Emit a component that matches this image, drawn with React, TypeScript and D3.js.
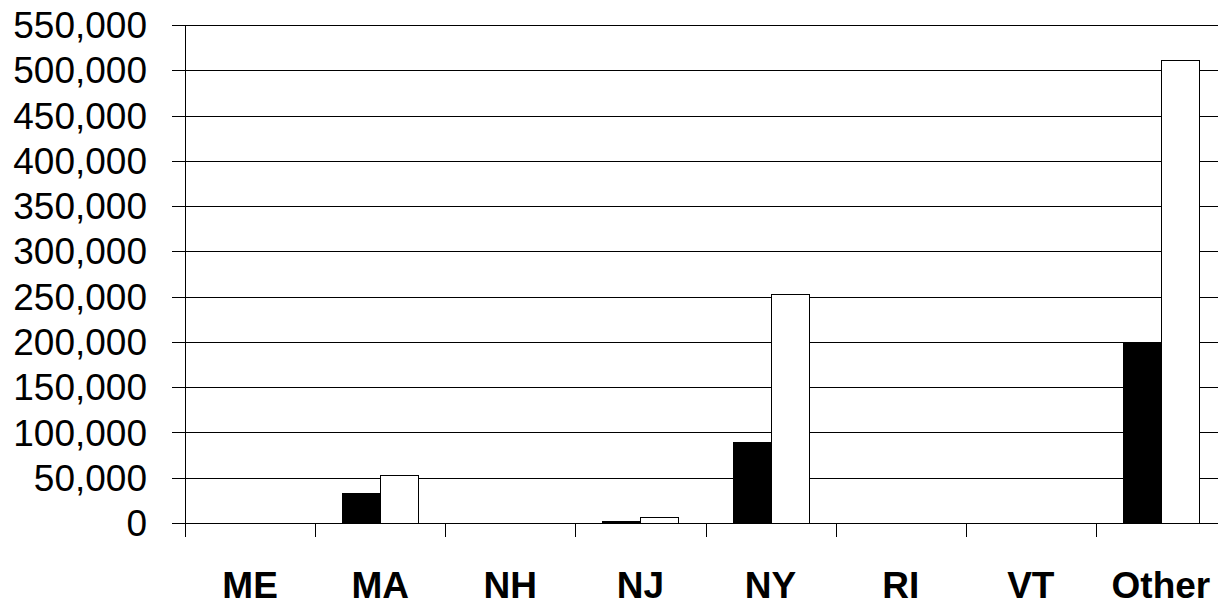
import React from "react";
import * as d3 from "d3";

const categories = ["ME", "MA", "NH", "NJ", "NY", "RI", "VT", "Other"];
const seriesNames = ["Series A", "Series B"];
const seriesA = [0, 33000, 0, 2000, 89000, 0, 0, 199000];
const seriesB = [0, 53500, 0, 6500, 252500, 0, 0, 511500];
const yTicks = [0, 50000, 100000, 150000, 200000, 250000, 300000, 350000, 400000, 450000, 500000, 550000];
const fills = ["#000000", "#ffffff"];

const W = 1218;
const H = 602;
const left = 185;
const right = 1226;
const top = 25;
const bottom = 523;

export default function App() {
  const x = d3.scaleBand<string>().domain(categories).range([left, right]).paddingInner(0).paddingOuter(0);
  const x1 = d3.scaleBand<string>().domain(seriesNames).range([0, x.bandwidth()]).paddingInner(0).paddingOuter(0.713);
  const y = d3.scaleLinear().domain([0, 550000]).range([bottom, top]);
  const fmt = d3.format(",");
  const values = [seriesA, seriesB];
  const px = (v: number) => Math.round(v) + 0.5;

  return (
    <svg width={W} height={H} style={{ position: "absolute", left: 0, top: 0, background: "#fff" }}>
      <rect x={0} y={0} width={W} height={H} fill="#fff" />
      {yTicks.map((t) => (
        <g key={t}>
          <line x1={left - 13} x2={W} y1={px(y(t))} y2={px(y(t))} stroke="#000" strokeWidth={1} />
          <text
            x={147}
            y={y(t)}
            dy="0.355em"
            textAnchor="end"
            fontFamily="'Liberation Sans', Arial, sans-serif"
            fontSize={37}
            fill="#000"
          >
            {fmt(t)}
          </text>
        </g>
      ))}
      {values.map((vals, si) =>
        categories.map((c, ci) => {
          const v = vals[ci];
          if (!v) return null;
          const x0 = Math.round((x(c) as number) + (x1(seriesNames[si]) as number));
          const w = Math.round(x1.bandwidth());
          const yt = Math.round(y(v));
          return (
            <rect
              key={`${si}-${ci}`}
              x={x0 + 0.5}
              y={yt + 0.5}
              width={w}
              height={Math.max(0, Math.round(y(0)) - yt)}
              fill={fills[si]}
              stroke="#000"
              strokeWidth={1}
            />
          );
        })
      )}
      <line x1={px(left)} x2={px(left)} y1={px(top)} y2={px(bottom)} stroke="#000" strokeWidth={1} />
      <line x1={left - 13} x2={W} y1={px(bottom)} y2={px(bottom)} stroke="#000" strokeWidth={1} />
      {categories.map((c) => (
        <line
          key={`t-${c}`}
          x1={px(x(c) as number)}
          x2={px(x(c) as number)}
          y1={px(bottom)}
          y2={bottom + 14}
          stroke="#000"
          strokeWidth={1}
        />
      ))}
      {categories.map((c) => (
        <text
          key={`l-${c}`}
          x={(x(c) as number) + x.bandwidth() / 2}
          y={598}
          textAnchor="middle"
          fontFamily="'Liberation Sans', Arial, sans-serif"
          fontWeight="bold"
          fontSize={37}
          fill="#000"
        >
          {c}
        </text>
      ))}
    </svg>
  );
}
